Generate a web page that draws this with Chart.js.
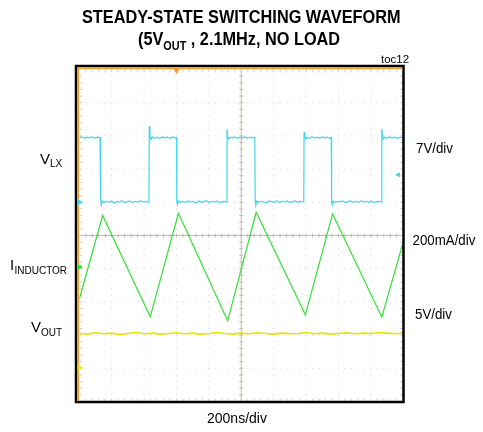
<!DOCTYPE html>
<html>
<head>
<meta charset="utf-8">
<script src="https://cdn.jsdelivr.net/npm/chart.js@4/dist/chart.umd.min.js"></script>
<style>
  body { margin: 0; background: #fff; }
  canvas { display: block; }
</style>
</head>
<body>
<canvas id="scope" width="483" height="432"></canvas>
<script>
const vlxT = [0.00,0.08,0.16,0.24,0.32,0.40,0.48,0.56,0.64,
  0.66,0.68,0.71,0.76,0.84,0.92,1.00,1.08,1.16,1.24,1.32,1.40,1.48,1.56,1.64,1.72,1.80,1.88,1.96,2.04,2.12,2.15,
  2.16,2.18,2.21,2.25,2.32,2.40,2.48,2.56,2.64,2.72,2.80,2.88,2.96,3.00,
  3.01,3.03,3.06,3.12,3.20,3.28,3.36,3.44,3.52,3.60,3.68,3.76,3.84,3.92,4.00,4.08,4.16,4.24,4.32,4.40,4.48,4.55,
  4.56,4.58,4.61,4.65,4.72,4.80,4.88,4.96,5.04,5.12,5.20,5.28,5.36,5.42,
  5.43,5.45,5.48,5.54,5.62,5.70,5.78,5.86,5.94,6.02,6.10,6.18,6.26,6.34,6.42,6.50,6.58,6.66,6.74,6.82,6.90,6.93,
  6.94,6.96,6.99,7.03,7.10,7.18,7.26,7.34,7.42,7.50,7.58,7.66,7.74,7.78,
  7.79,7.81,7.84,7.90,7.98,8.06,8.14,8.22,8.30,8.38,8.46,8.54,8.62,8.70,8.78,8.86,8.94,9.02,9.10,9.18,9.26,9.33,
  9.34,9.36,9.39,9.43,9.50,9.58,9.66,9.74,9.82,9.90,9.96];
const vlxV = [7.95,7.97,7.93,7.96,7.94,7.97,7.93,7.96,7.95,
  6.05,5.92,6.04,5.99,6.03,6.00,6.04,5.98,6.03,6.01,6.05,5.99,6.02,6.04,5.99,6.03,6.00,6.05,6.01,6.03,5.99,6.02,
  8.30,7.99,7.89,7.97,7.93,7.96,7.92,7.97,7.94,7.96,7.93,7.97,7.94,7.95,
  6.05,5.93,6.04,6.00,6.03,5.99,6.04,6.01,6.03,5.98,6.04,6.00,6.02,6.05,5.99,6.03,6.01,6.04,5.99,6.02,6.03,6.01,
  8.21,7.98,7.90,7.96,7.94,7.97,7.93,7.96,7.94,7.97,7.93,7.96,7.94,7.95,
  6.05,5.92,6.04,6.00,6.03,6.01,5.99,6.04,6.02,6.00,6.05,5.99,6.03,6.01,6.04,5.99,6.02,6.04,6.00,6.03,6.01,6.02,
  8.12,7.99,7.90,7.96,7.93,7.97,7.94,7.96,7.93,7.97,7.94,7.96,7.93,7.95,
  6.05,5.93,6.04,5.99,6.03,6.01,6.04,5.99,6.02,6.04,6.00,6.03,5.99,6.05,6.01,6.03,6.00,6.04,5.99,6.02,6.03,6.01,
  8.21,7.98,7.90,7.96,7.93,7.97,7.94,7.96,7.92,7.96,7.94];

// corrente no indutor (triangular): vales nas subidas de LX, picos nas descidas
const indT = [0.00,0.72,2.19,3.06,4.58,5.46,6.98,7.82,9.34,10.00];
const indV = [3.08,5.60,2.55,5.67,2.43,5.70,2.61,5.65,2.54,4.80];

// tensão de saída (quase plana, com ruído)
const voutT = [0.00,0.25,0.50,0.75,1.00,1.25,1.50,1.75,2.00,2.25,2.50,2.75,3.00,3.25,3.50,3.75,4.00,4.25,4.50,4.75,
  5.00,5.25,5.50,5.75,6.00,6.25,6.50,6.75,7.00,7.25,7.50,7.75,8.00,8.25,8.50,8.75,9.00,9.25,9.50,9.75,10.00];
const voutV = [2.05,2.03,2.07,2.04,2.06,2.02,2.05,2.08,2.04,2.06,2.03,2.05,2.07,2.04,2.06,2.03,2.05,2.08,2.05,2.03,
  2.06,2.04,2.07,2.05,2.03,2.06,2.04,2.05,2.08,2.04,2.06,2.03,2.05,2.07,2.04,2.06,2.05,2.08,2.06,2.04,2.07];

// marcadores de nível dos canais (lado esquerdo) e do trigger
const markerLevels = [6.00, 4.05, 1.02];
const markerColors = ["#3fd6ee", "#33e033", "#e8e400"];
const trigLevel = 6.83;
const trigPos = 3.0;

const toXY = (t, v) => t.map((tt, i) => ({ x: tt, y: v[i] }));
const FONT = '"Liberation Sans", Arial, sans-serif';

function texto(ctx, s, x, y, font, sx) {
    ctx.save();
    ctx.font = font;
    ctx.translate(x, y);
    ctx.scale(sx, 1);
    ctx.fillText(s, 0, 0);
    const w = ctx.measureText(s).width * sx;
    ctx.restore();
    return w;
}

const scopePlugin = {
    id: "scope",
    beforeDatasetsDraw(chart) {
        const { ctx, chartArea: a, scales: { x, y } } = chart;
        ctx.save();
        // grade pontilhada
        ctx.fillStyle = "#d4d4d4";
        for (let i = 1; i < 10; i++) {
            if (i === 5) continue;
            const px = x.getPixelForValue(i);
            const py = y.getPixelForValue(i);
            for (let j = 0; j <= 50; j++) {
                ctx.fillRect(px - 0.5, y.getPixelForValue(j * 0.2) - 0.5, 1, 1);
                ctx.fillRect(x.getPixelForValue(j * 0.2) - 0.5, py - 0.5, 1, 1);
            }
        }
        // linhas centrais com marcas
        ctx.strokeStyle = "#c2b9ad";
        ctx.lineWidth = 1;
        const cx = x.getPixelForValue(5), cy = y.getPixelForValue(5);
        ctx.beginPath();
        ctx.moveTo(cx, a.top); ctx.lineTo(cx, a.bottom);
        ctx.moveTo(a.left, cy); ctx.lineTo(a.right, cy);
        for (let j = 1; j < 50; j++) {
            const px = x.getPixelForValue(j * 0.2), py = y.getPixelForValue(j * 0.2);
            ctx.moveTo(px, cy - 2); ctx.lineTo(px, cy + 2);
            ctx.moveTo(cx - 2, py); ctx.lineTo(cx + 2, py);
        }
        ctx.stroke();
        // marcas nas bordas
        ctx.strokeStyle = "#cfcfcf";
        ctx.beginPath();
        for (let j = 1; j < 50; j++) {
            const px = x.getPixelForValue(j * 0.2), py = y.getPixelForValue(j * 0.2);
            ctx.moveTo(px, a.top); ctx.lineTo(px, a.top + 3);
            ctx.moveTo(px, a.bottom); ctx.lineTo(px, a.bottom - 3);
            ctx.moveTo(a.left, py); ctx.lineTo(a.left + 3, py);
            ctx.moveTo(a.right, py); ctx.lineTo(a.right - 3, py);
        }
        ctx.stroke();
        ctx.restore();
    },
    afterDatasetsDraw(chart) {
        const { ctx, chartArea: a, scales: { x, y } } = chart;
        ctx.save();
        // moldura
        ctx.strokeStyle = "#000";
        ctx.lineWidth = 2.5;
        ctx.strokeRect(76, 66, a.right + 0.3 - 76, a.bottom + 0.5 - 66);
        ctx.strokeStyle = "#f0a030";
        ctx.lineWidth = 2;
        ctx.beginPath();
        ctx.moveTo(78, 67.5); ctx.lineTo(78, a.bottom - 0.5);
        ctx.moveTo(77.5, 68.2); ctx.lineTo(a.right - 1, 68.2);
        ctx.stroke();
        // marcador do trigger (topo)
        const tx = x.getPixelForValue(trigPos);
        ctx.fillStyle = "#f0a030";
        ctx.beginPath();
        ctx.moveTo(tx - 3, 69); ctx.lineTo(tx + 3, 69); ctx.lineTo(tx, 74);
        ctx.fill();
        // marcadores dos canais
        markerLevels.forEach((lv, i) => {
            const py = y.getPixelForValue(lv);
            ctx.fillStyle = markerColors[i];
            ctx.beginPath();
            ctx.moveTo(78, py - 3); ctx.lineTo(78, py + 3); ctx.lineTo(83, py);
            ctx.fill();
        });
        const ry = y.getPixelForValue(trigLevel);
        ctx.fillStyle = markerColors[0];
        ctx.beginPath();
        ctx.moveTo(400, ry - 2.5); ctx.lineTo(400, ry + 2.5); ctx.lineTo(395, ry);
        ctx.fill();
        ctx.restore();
    },
    afterDraw(chart) {
        const ctx = chart.ctx;
        ctx.save();
        ctx.fillStyle = "#000";
        ctx.textBaseline = "alphabetic";
        // título
        texto(ctx, "STEADY-STATE SWITCHING WAVEFORM", 82, 23, "bold 18px " + FONT, 0.905);
        let px = 138;
        px += texto(ctx, "(5V", px, 45, "bold 18px " + FONT, 0.905);
        px += texto(ctx, "OUT", px, 49.5, "bold 12px " + FONT, 0.905);
        texto(ctx, " , 2.1MHz, NO LOAD", px, 45, "bold 18px " + FONT, 0.905);
        texto(ctx, "toc12", 381, 63, "11.5px " + FONT, 1);
        // rótulos dos canais
        texto(ctx, "V", 40, 163.5, "15px " + FONT, 1);
        texto(ctx, "LX", 50, 166.5, "10px " + FONT, 1);
        texto(ctx, "I", 10, 270, "15px " + FONT, 1);
        texto(ctx, "INDUCTOR", 14.5, 274, "10px " + FONT, 1);
        texto(ctx, "V", 31, 332, "15px " + FONT, 1);
        texto(ctx, "OUT", 41, 335.5, "10px " + FONT, 1);
        // escalas
        texto(ctx, "7V/div", 416, 153, "14px " + FONT, 0.95);
        texto(ctx, "200mA/div", 412.5, 245, "14px " + FONT, 0.95);
        texto(ctx, "5V/div", 415, 318.5, "14px " + FONT, 0.95);
        texto(ctx, "200ns/div", 207, 423, "14px " + FONT, 1);
        ctx.restore();
    }
};

new Chart(document.getElementById("scope").getContext("2d"), {
    type: "line",
    data: {
        datasets: [
            { data: toXY(voutT, voutV), borderColor: "#e8e400", borderWidth: 1.6 },
            { data: toXY(indT, indV), borderColor: "#33e033", borderWidth: 1.2 },
            { data: toXY(vlxT, vlxV), borderColor: "#3fd6ee", borderWidth: 1.2 }
        ]
    },
    options: {
        responsive: false,
        animation: false,
        events: [],
        elements: { point: { radius: 0 }, line: { tension: 0 } },
        layout: { autoPadding: false, padding: { left: 79.3, right: 79.8, top: 69.5, bottom: 30.5 } },
        scales: {
            x: { type: "linear", min: 0, max: 10, display: false },
            y: { type: "linear", min: 0, max: 10, display: false }
        },
        plugins: { legend: { display: false }, tooltip: { enabled: false } }
    },
    plugins: [scopePlugin]
});
</script>
</body>
</html>
